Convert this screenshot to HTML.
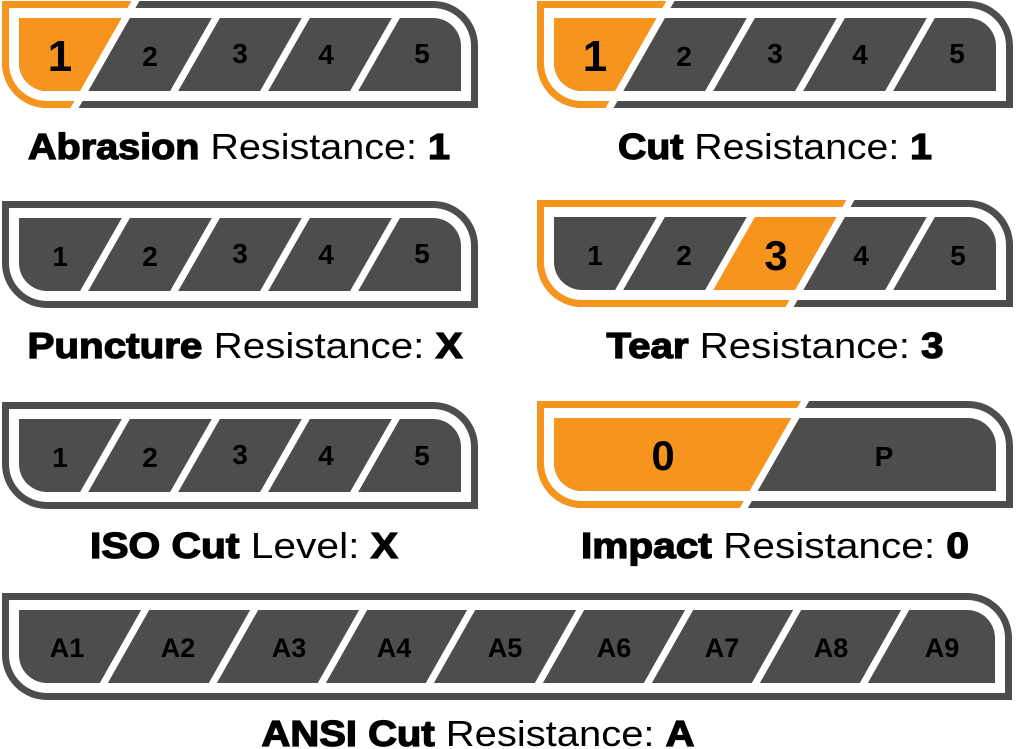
<!DOCTYPE html>
<html><head><meta charset="utf-8"><style>
html,body{margin:0;padding:0;background:#fff;width:1016px;height:749px;overflow:hidden}
svg{display:block}
text{font-family:"Liberation Sans",Arial,sans-serif;font-weight:bold;fill:#000}
.n{font-size:28px;text-anchor:middle}
.a{font-size:27px;text-anchor:middle}
.lab{font-size:36px;text-anchor:middle}
.b{font-weight:bold;stroke:#000;stroke-width:1.3}
.r{font-weight:normal}
.sep{stroke:#fff;stroke-width:7}
</style></head><body>
<svg width="1016" height="749" viewBox="0 0 1016 749" xmlns="http://www.w3.org/2000/svg">
<defs>
<clipPath id="c1" clipPathUnits="userSpaceOnUse"><polygon points="-5,-5 136.3,-5 69.7,112 -5,112"/></clipPath>
<clipPath id="ct" clipPathUnits="userSpaceOnUse"><polygon points="-5,-5 316.3,-5 249.7,112 -5,112"/></clipPath>
<clipPath id="ct3" clipPathUnits="userSpaceOnUse"><polygon points="226.3,-5 316.3,-5 249.7,112 159.7,112"/></clipPath>
<clipPath id="ci" clipPathUnits="userSpaceOnUse"><polygon points="-5,-5 271,-5 204,112 -5,112"/></clipPath>
<path id="o" d="M0,0 H431 A45,45 0 0 1 476,45 V107 H45 A45,45 0 0 1 0,62 Z"/>
<path id="i" d="M7,7 H431 A38,38 0 0 1 469,45 V100 H45 A38,38 0 0 1 7,62 Z"/>
<path id="c" d="M17,17 H431 A28,28 0 0 1 459,45 V90 H45 A28,28 0 0 1 17,62 Z"/>
<g id="seps5">
<line class="sep" x1="126.7" y1="12" x2="79.3" y2="95"/>
<line class="sep" x1="216.7" y1="12" x2="169.3" y2="95"/>
<line class="sep" x1="306.7" y1="12" x2="259.3" y2="95"/>
<line class="sep" x1="396.7" y1="12" x2="349.3" y2="95"/>
</g>
</defs>

<!-- Abrasion -->
<g transform="translate(2,1)">
<use href="#o" fill="#4d4d4d"/><use href="#o" fill="#f7941d" clip-path="url(#c1)"/>
<use href="#i" fill="#fff"/>
<use href="#c" fill="#4d4d4d"/><use href="#c" fill="#f7941d" clip-path="url(#c1)"/>
<use href="#seps5"/>
<line class="sep" x1="136.3" y1="-5" x2="69.7" y2="112"/>
<text x="58" y="70" style="font-size:44px;text-anchor:middle">1</text>
<text class="n" x="148" y="65">2</text><text class="n" x="238" y="62">3</text><text class="n" x="324" y="63">4</text><text class="n" x="420" y="62">5</text>
</g>
<text class="lab" x="239" y="159" textLength="422" lengthAdjust="spacingAndGlyphs"><tspan class="b">Abrasion</tspan><tspan class="r"> Resistance: </tspan><tspan class="b">1</tspan></text>

<!-- Cut -->
<g transform="translate(537,1)">
<use href="#o" fill="#4d4d4d"/><use href="#o" fill="#f7941d" clip-path="url(#c1)"/>
<use href="#i" fill="#fff"/>
<use href="#c" fill="#4d4d4d"/><use href="#c" fill="#f7941d" clip-path="url(#c1)"/>
<use href="#seps5"/>
<line class="sep" x1="136.3" y1="-5" x2="69.7" y2="112"/>
<text x="58" y="70" style="font-size:44px;text-anchor:middle">1</text>
<text class="n" x="147" y="65">2</text><text class="n" x="238" y="62">3</text><text class="n" x="323" y="63">4</text><text class="n" x="420" y="62">5</text>
</g>
<text class="lab" x="775" y="159" textLength="314" lengthAdjust="spacingAndGlyphs"><tspan class="b">Cut</tspan><tspan class="r"> Resistance: </tspan><tspan class="b">1</tspan></text>

<!-- Puncture -->
<g transform="translate(2,201)">
<use href="#o" fill="#4d4d4d"/>
<use href="#i" fill="#fff"/>
<use href="#c" fill="#4d4d4d"/>
<use href="#seps5"/>
<text class="n" x="58" y="65">1</text><text class="n" x="148" y="65">2</text><text class="n" x="238" y="62">3</text><text class="n" x="324" y="63">4</text><text class="n" x="420" y="62">5</text>
</g>
<text class="lab" x="245" y="358" textLength="435" lengthAdjust="spacingAndGlyphs"><tspan class="b">Puncture</tspan><tspan class="r"> Resistance: </tspan><tspan class="b">X</tspan></text>

<!-- Tear -->
<g transform="translate(537,200)">
<use href="#o" fill="#4d4d4d"/><use href="#o" fill="#f7941d" clip-path="url(#ct)"/>
<use href="#i" fill="#fff"/>
<use href="#c" fill="#4d4d4d"/><use href="#c" fill="#f7941d" clip-path="url(#ct3)"/>
<use href="#seps5"/>
<line class="sep" x1="316.3" y1="-5" x2="249.7" y2="112"/>
<text class="n" x="58" y="65">1</text><text class="n" x="147" y="65">2</text>
<text x="239" y="70" style="font-size:42px;text-anchor:middle">3</text>
<text class="n" x="324" y="65">4</text><text class="n" x="421" y="65">5</text>
</g>
<text class="lab" x="775" y="358" textLength="337" lengthAdjust="spacingAndGlyphs"><tspan class="b">Tear</tspan><tspan class="r"> Resistance: </tspan><tspan class="b">3</tspan></text>

<!-- ISO -->
<g transform="translate(2,402)">
<use href="#o" fill="#4d4d4d"/>
<use href="#i" fill="#fff"/>
<use href="#c" fill="#4d4d4d"/>
<use href="#seps5"/>
<text class="n" x="58" y="65">1</text><text class="n" x="148" y="65">2</text><text class="n" x="238" y="62">3</text><text class="n" x="324" y="63">4</text><text class="n" x="420" y="63">5</text>
</g>
<text class="lab" x="244" y="558" textLength="308" lengthAdjust="spacingAndGlyphs"><tspan class="b">ISO Cut</tspan><tspan class="r"> Level: </tspan><tspan class="b">X</tspan></text>

<!-- Impact -->
<g transform="translate(537,401)">
<use href="#o" fill="#4d4d4d"/><use href="#o" fill="#f7941d" clip-path="url(#ci)"/>
<use href="#i" fill="#fff"/>
<use href="#c" fill="#4d4d4d"/><use href="#c" fill="#f7941d" clip-path="url(#ci)"/>
<line class="sep" x1="271" y1="-5" x2="204" y2="112"/>
<text x="126" y="69" style="font-size:42px;text-anchor:middle">0</text>
<text class="n" x="347" y="65">P</text>
</g>
<text class="lab" x="775" y="558" textLength="388" lengthAdjust="spacingAndGlyphs"><tspan class="b">Impact</tspan><tspan class="r"> Resistance: </tspan><tspan class="b">0</tspan></text>

<!-- ANSI -->
<g transform="translate(2,593)">
<path d="M0,0 H965 A45,45 0 0 1 1010,45 V107 H45 A45,45 0 0 1 0,62 Z" fill="#4d4d4d"/>
<path d="M7,7 H965 A38,38 0 0 1 1003,45 V100 H45 A38,38 0 0 1 7,62 Z" fill="#fff"/>
<path d="M17,17 H965 A28,28 0 0 1 993,45 V90 H45 A28,28 0 0 1 17,62 Z" fill="#4d4d4d"/>
<line class="sep" x1="146" y1="12" x2="99" y2="95"/>
<line class="sep" x1="255" y1="12" x2="208" y2="95"/>
<line class="sep" x1="364" y1="12" x2="317" y2="95"/>
<line class="sep" x1="472" y1="12" x2="425" y2="95"/>
<line class="sep" x1="581" y1="12" x2="534" y2="95"/>
<line class="sep" x1="690" y1="12" x2="643" y2="95"/>
<line class="sep" x1="798" y1="12" x2="751" y2="95"/>
<line class="sep" x1="906" y1="12" x2="859" y2="95"/>
<text class="a" x="65" y="64">A1</text><text class="a" x="176" y="64">A2</text><text class="a" x="287" y="64">A3</text>
<text class="a" x="392" y="64">A4</text><text class="a" x="503" y="64">A5</text><text class="a" x="612" y="64">A6</text>
<text class="a" x="720" y="64">A7</text><text class="a" x="829" y="64">A8</text><text class="a" x="940" y="64">A9</text>
</g>
<text class="lab" x="478" y="746" textLength="433" lengthAdjust="spacingAndGlyphs"><tspan class="b">ANSI Cut</tspan><tspan class="r"> Resistance: </tspan><tspan class="b">A</tspan></text>
</svg>
</body></html>
